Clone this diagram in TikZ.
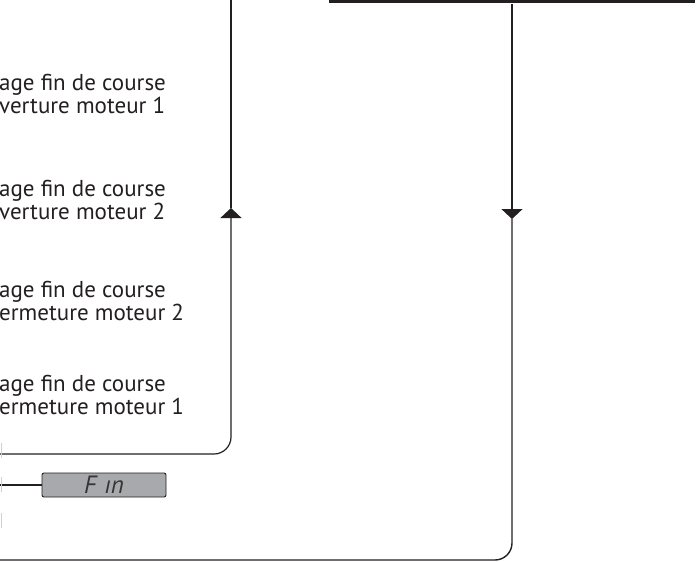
\documentclass[tikz,border=0pt]{standalone}
\usepackage{fontspec}
\setmainfont{PT Sans}
\usetikzlibrary{arrows.meta}
\definecolor{ink}{HTML}{231F20}
\definecolor{lcdgray}{HTML}{A7A9AC}
\definecolor{edgegray}{HTML}{D0D0D0}
\begin{document}
\begin{tikzpicture}[x=1pt,y=-1pt,
  conn/.style={draw=ink, line width=1.2pt},
  lbl/.style={anchor=base west, inner sep=0pt, font=\fontsize{23}{23}\selectfont, text=ink},
  tipend/.style={-{Triangle[width=21pt,length=10pt]}},
  lcd/.style={draw=ink, line width=0.9pt, fill=lcdgray, rounded corners=2pt,
    minimum width=124pt, minimum height=24pt, inner sep=0pt,
    font=\fontsize{25}{25}\selectfont\itshape, text=ink!90},
]
\useasboundingbox (0,0) rectangle (699,562);
% labels
\node[lbl] (t1a) at (-1,90) {age fin de course};
\node[lbl] (t1b) at (-1,113) {verture moteur 1};
\node[lbl] (t2a) at (-1,196) {age fin de course};
\node[lbl] (t2b) at (-1,219) {verture moteur 2};
\node[lbl] (t3a) at (-1,297) {age fin de course};
\node[lbl] (t3b) at (-1,320) {ermeture moteur 2};
\node[lbl] (t4a) at (-1,391) {age fin de course};
\node[lbl] (t4b) at (-1,414) {ermeture moteur 1};
% top bar
\node[fill=ink, minimum width=366pt, minimum height=4pt, inner sep=0pt, anchor=south west] (topbar) at (329,3.5) {};
% Fin box
\node[lcd] (fin) at (104,485) {\raisebox{-1pt}{F\hspace{8pt}ın}};
\coordinate (finL) at (0,485);
\draw[conn] (finL) -- (fin.west);
% left loop (upward)
\coordinate (lA) at (0,454);
\coordinate (lB) at (231,454);
\coordinate (lArr) at (231,208);
\coordinate (lTop) at (231,0);
\draw[conn, rounded corners=17pt, tipend] (lA) -- (lB) -- (lArr);
\draw[conn] (lArr) -- (lTop);
% right loop (downward)
\coordinate (rArr) at (512,219);
\coordinate (rB) at (512,560);
\coordinate (rEnd) at (0,560);
\draw[conn, tipend] (topbar.south -| rArr) -- (rArr);
\draw[conn, line width=1.4pt, rounded corners=17pt] (rArr) -- (rB) -- (rEnd);
% cut-off edges at the far left
\draw[edgegray, line width=1pt] (1,443) -- (1,458);
\draw[edgegray, line width=1pt] (1,477) -- (1,492);
\draw[edgegray, line width=1pt] (1,513) -- (1,528);
\end{tikzpicture}
\end{document}
